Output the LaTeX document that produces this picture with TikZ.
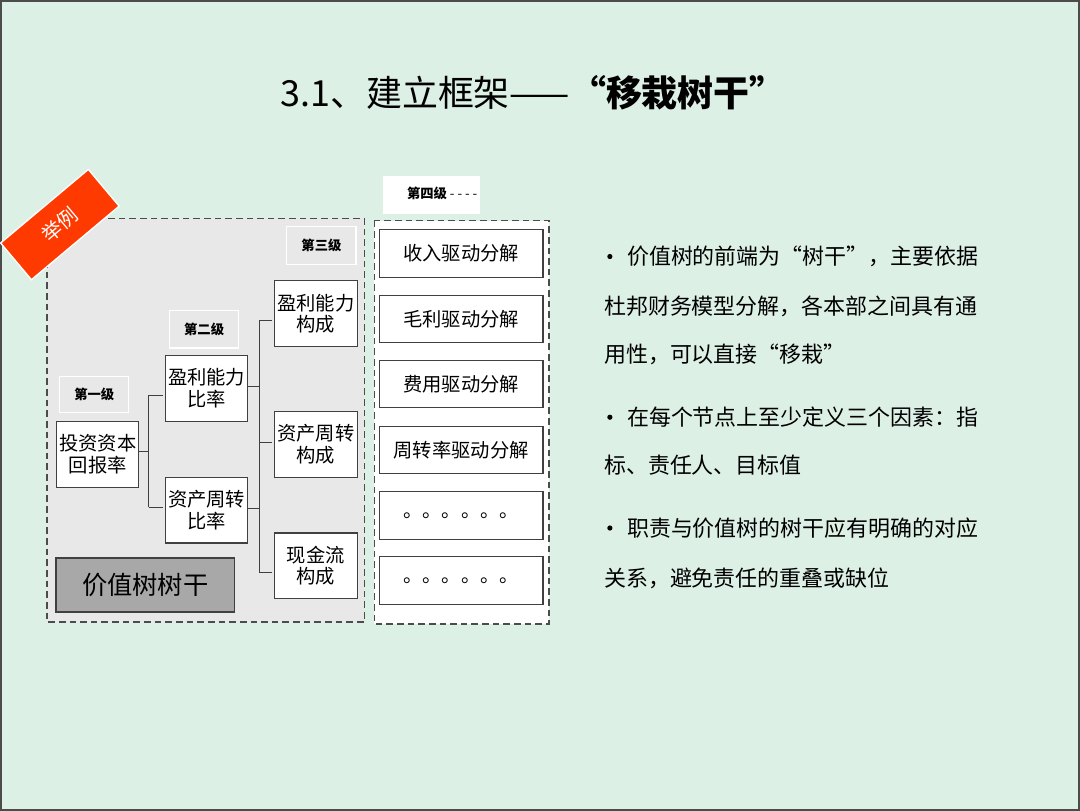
\documentclass[tikz,border=0pt]{standalone}
\usepackage{fontspec}
\setmainfont{Noto Sans CJK SC}
\definecolor{bgc}{HTML}{DDF0E6}
\definecolor{panel}{HTML}{E8E8E8}
\definecolor{redb}{HTML}{FF3A00}
\definecolor{trunk}{HTML}{A8A8A8}
\begin{document}
\begin{tikzpicture}[x=0.75pt,y=-0.75pt,
  box/.style={draw=black!75,fill=white,line width=0.8pt,align=center,inner sep=0pt,font=\fontsize{14.5}{16}\selectfont},
  lvl/.style={draw=white,fill=panel,line width=0.8pt,inner sep=0pt,font=\fontsize{10}{12}\selectfont\bfseries},
  rbox/.style={draw=black!75,fill=white,line width=0.8pt,inner sep=0pt,minimum width=123pt,minimum height=35.5pt,font=\fontsize{14.5}{16}\selectfont},
  conn/.style={draw=black!75,line width=0.7pt},
  txt/.style={anchor=west,inner sep=0pt,font=\fontsize{16.5}{18}\selectfont}]
\fill[bgc] (0,0) rectangle (1080,810);
\draw[black!70,line width=1.5pt] (0,0) rectangle (1080,810);
\useasboundingbox (0,0) rectangle (1080,810);
% title
\node[inner sep=0pt,font=\fontsize{27}{30}\selectfont] (title) at (533,92) {3.1、建立框架——\textbf{“移栽树干”}};
% panels
\draw[black!70,fill=panel,line width=1pt,dash pattern=on 5pt off 3pt] (46,218) rectangle (364,622);
\draw[black!70,fill=white,line width=1pt,dash pattern=on 5pt off 3pt] (374,220) rectangle (549,624);
\fill[white] (383,175) rectangle (480,213);
\node[inner sep=0pt,font=\fontsize{10}{12}\selectfont] (l4) at (442,193) {\textbf{第四级} -\ -\ -\ -};
% banner
\node[rotate=40,fill=redb,draw=white,line width=1pt,minimum width=86pt,minimum height=36pt,inner sep=0pt,text=white,font=\fontsize{15}{16}\selectfont] (ex) at (59,224) {举例};
% level labels
\node[lvl,minimum width=52pt,minimum height=28pt] (l3) at (321,245) {第三级};
\node[lvl,minimum width=52pt,minimum height=28pt] (l2) at (203.5,329) {第二级};
\node[lvl,minimum width=52pt,minimum height=27pt] (l1) at (93.5,394) {第一级};
% tree
\node[box,minimum width=61.5pt,minimum height=49.5pt] (r) at (97,454) {投资资本\\回报率};
\node[box,minimum width=61.5pt,minimum height=49.5pt] (a) at (206,388) {盈利能力\\比率};
\node[box,minimum width=61.5pt,minimum height=49.5pt] (b) at (206,510) {资产周转\\比率};
\node[box,minimum width=62pt,minimum height=49.5pt] (c1) at (315.5,313) {盈利能力\\构成};
\node[box,minimum width=62pt,minimum height=49.5pt] (c2) at (315.5,444) {资产周转\\构成};
\node[box,minimum width=62pt,minimum height=49.5pt] (c3) at (315.5,566) {现金流\\构成};
\node[draw=black!75,fill=trunk,line width=1pt,minimum width=134pt,minimum height=40.5pt,inner sep=0pt,font=\fontsize{19}{20}\selectfont] (t) at (144.5,585) {价值树树干};
\coordinate (j1) at (148,451);
\draw[conn] (r.east |- j1) -- (j1) (148,395) -- (148,507) (148,395) -- (162,395) (148,507) -- (162,507);
\draw[conn] (a.east) ++(0,-2) -- (259,386) (b.east) ++(0,-2) -- (259,508);
\draw[conn] (259,320) -- (259,573) (259,320) -- (272,320) (259,442) -- (272,442) (259,573) -- (272,573);
% right boxes
\node[rbox] (d1) at (461,253) {收入驱动分解};
\node[rbox] (d2) at (461,318.5) {毛利驱动分解};
\node[rbox] (d3) at (461,384) {费用驱动分解};
\node[rbox] (d4) at (461,449.5) {周转率驱动分解};
\node[rbox] (d5) at (461,515.5) {。。。。。。};
\node[rbox] (d6) at (461,580.5) {。。。。。。};
% bullets
\foreach \y in {256,417,528} \fill (610,\y) circle (2.6);
\node[txt] (p1) at (627,256) {价值树的前端为“树干”，主要依据};
\node[txt] (p2) at (604,306) {杜邦财务模型分解，各本部之间具有通};
\node[txt] (p3) at (604,354) {用性，可以直接“移栽”};
\node[txt] (p4) at (627,417) {在每个节点上至少定义三个因素：指};
\node[txt] (p5) at (604,465) {标、责任人、目标值};
\node[txt] (p6) at (627,528) {职责与价值树的树干应有明确的对应};
\node[txt] (p7) at (604,578) {关系，避免责任的重叠或缺位};
\end{tikzpicture}
\end{document}
